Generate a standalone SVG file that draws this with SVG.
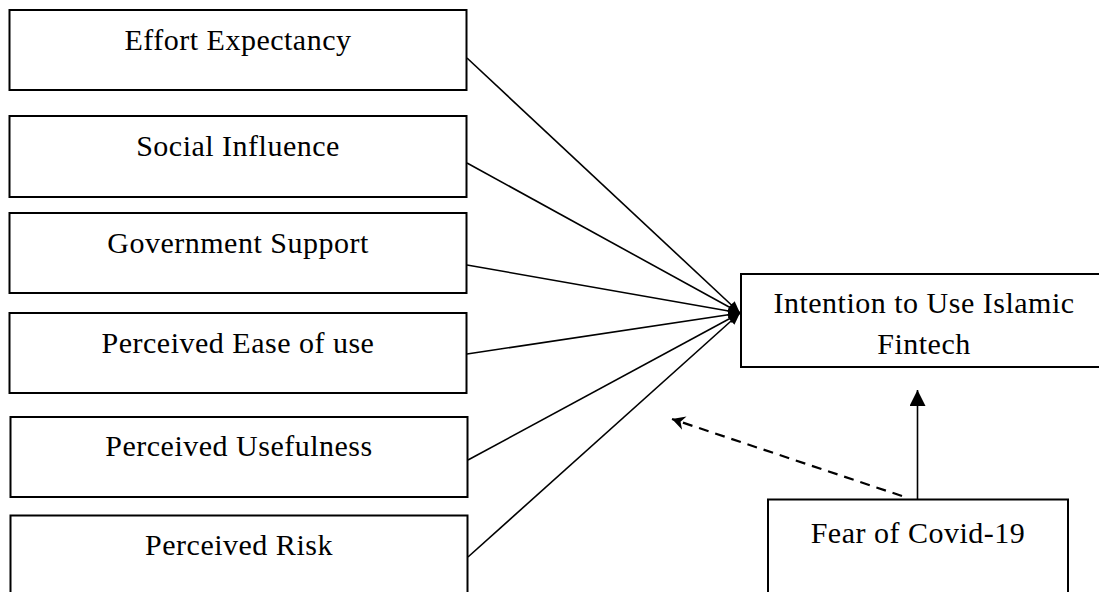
<svg xmlns="http://www.w3.org/2000/svg" width="1099" height="592" viewBox="0 0 1099 592">
<style>
.box{fill:#fff;stroke:#000;stroke-width:2}
.lbl{font-family:"Liberation Serif","Times New Roman",serif;font-size:30px;letter-spacing:0.5px;fill:#000;text-anchor:middle}
.ln{stroke:#000;stroke-width:1.6;fill:none}
.dash{stroke:#000;stroke-width:2.2;fill:none;stroke-dasharray:10,7}
</style>
<defs>
<marker id="ah" viewBox="0 0 12 10" refX="12" refY="5" markerWidth="12" markerHeight="10" markerUnits="userSpaceOnUse" orient="auto">
<path d="M0,0 L12,5 L0,10 Z" fill="#000"/>
</marker>
<marker id="ahUp" viewBox="0 0 16 16" refX="16" refY="8" markerWidth="16" markerHeight="16" markerUnits="userSpaceOnUse" orient="auto">
<path d="M0,0 L16,8 L0,16 Z" fill="#000"/>
</marker>
<marker id="ahOpen" viewBox="0 0 14 14" refX="13" refY="7" markerWidth="14" markerHeight="14" markerUnits="userSpaceOnUse" orient="auto">
<path d="M0,0 L13,7 L0,14 L4,7 Z" fill="#000"/>
</marker>
</defs>
<g id="n1"><rect class="box" x="9.5" y="10" width="457" height="80"/><text class="lbl" x="238" y="50">Effort Expectancy</text></g>
<g id="n2"><rect class="box" x="9.5" y="116" width="457" height="81"/><text class="lbl" x="238" y="156">Social Influence</text></g>
<g id="n3"><rect class="box" x="9.5" y="213" width="457" height="80"/><text class="lbl" x="238" y="253">Government Support</text></g>
<g id="n4"><rect class="box" x="9.5" y="313" width="457" height="80"/><text class="lbl" x="238" y="353">Perceived Ease of use</text></g>
<g id="n5"><rect class="box" x="10.5" y="417" width="457" height="80"/><text class="lbl" x="239" y="456">Perceived Usefulness</text></g>
<g id="n6"><rect class="box" x="10.5" y="515.5" width="457" height="90"/><text class="lbl" x="239" y="555">Perceived Risk</text></g>
<g id="n7"><rect class="box" x="741" y="274" width="380" height="93"/><text class="lbl" x="924" y="313">Intention to Use Islamic</text><text class="lbl" x="924" y="354">Fintech</text></g>
<g id="n8"><rect class="box" x="768" y="499.5" width="300" height="110"/><text class="lbl" x="918" y="543">Fear of Covid-19</text></g>
<g id="edges">
<line class="ln" x1="467" y1="58" x2="740" y2="313" marker-end="url(#ah)"/>
<line class="ln" x1="467" y1="163" x2="740" y2="313" marker-end="url(#ah)"/>
<line class="ln" x1="467" y1="265" x2="740" y2="313" marker-end="url(#ah)"/>
<line class="ln" x1="467" y1="354" x2="740" y2="313" marker-end="url(#ah)"/>
<line class="ln" x1="468" y1="460" x2="740" y2="313" marker-end="url(#ah)"/>
<line class="ln" x1="468" y1="557" x2="740" y2="313" marker-end="url(#ah)"/>
<line class="ln" x1="917.5" y1="499" x2="917.5" y2="390" stroke-width="1.8" marker-end="url(#ahUp)"/>
<line class="dash" x1="902" y1="496" x2="672" y2="419" marker-end="url(#ahOpen)"/>
</g>
</svg>
